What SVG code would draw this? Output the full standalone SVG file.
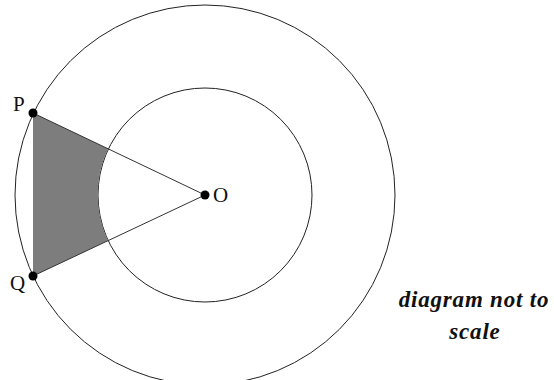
<svg xmlns="http://www.w3.org/2000/svg" width="554" height="380" viewBox="0 0 554 380">
<style>
.c{fill:none;stroke:#222;stroke-width:1}
.l{stroke:#333;stroke-width:1;fill:none}
.lbl{font-family:"Liberation Serif",serif;font-size:21px;fill:#111}
.note{font-family:"Liberation Serif",serif;font-size:23px;font-weight:bold;font-style:italic;fill:#111;text-anchor:middle;letter-spacing:0.8px}
.dot{fill:#000}
</style>
<rect width="554" height="380" fill="#fff"/>
<g id="outer-circle"><circle class="c" cx="205" cy="195" r="190"/></g>
<g id="inner-circle"><circle class="c" cx="205" cy="195" r="107"/></g>
<g id="shaded"><path d="M33,113 L33,276 L108.1,240.6 A107,107 0 0 1 108.1,148.8 Z" fill="#7d7d7d" stroke="none"/></g>
<g id="connectors">
<line class="l" x1="33" y1="113" x2="205" y2="195"/>
<line class="l" x1="33" y1="276" x2="205" y2="195"/>
</g>
<g id="P"><circle class="dot" cx="33" cy="113" r="4.5"/><text class="lbl" x="13" y="111">P</text></g>
<g id="Q"><circle class="dot" cx="33" cy="276" r="4.5"/><text class="lbl" x="10" y="290">Q</text></g>
<g id="O"><circle class="dot" cx="205" cy="195" r="4.5"/><text class="lbl" x="213" y="202">O</text></g>
<g id="note">
<text class="note" x="474" y="307">diagram not to</text>
<text class="note" x="475" y="339">scale</text>
</g>
</svg>
